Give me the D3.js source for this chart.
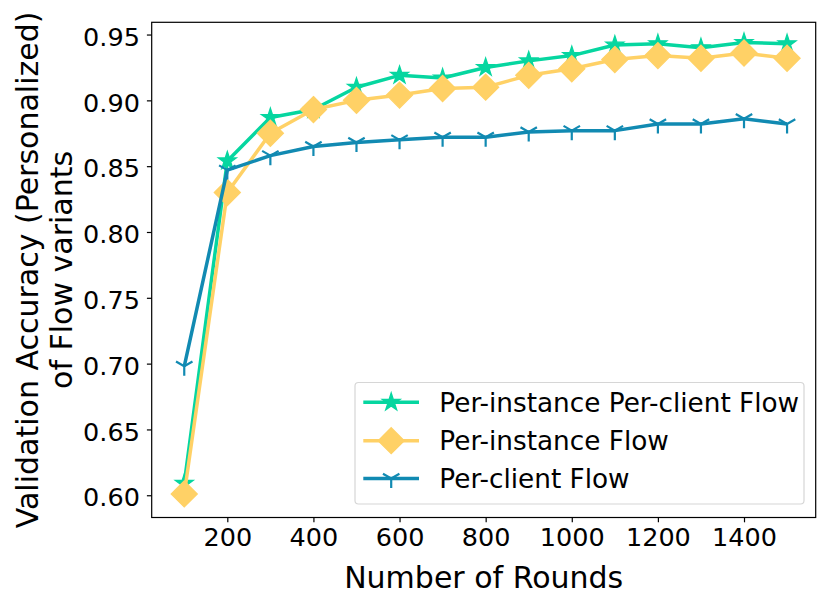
<!DOCTYPE html>
<html>
<head>
<meta charset="utf-8">
<script src="https://cdn.jsdelivr.net/npm/d3@7"></script>
<style>
  html, body { margin: 0; padding: 0; background: #fff; }
  svg { display: block; font-family: 'DejaVu Sans', sans-serif; }
</style>
</head>
<body>
<div id="chart"></div>
<script>
// Data
const rounds = [100, 200, 300, 400, 500, 600, 700, 800, 900, 1000, 1100, 1200, 1300, 1400, 1500];
const perInstancePerClient = [0.609, 0.854, 0.887, 0.893, 0.910, 0.919, 0.917, 0.925, 0.930, 0.934, 0.942, 0.943, 0.940, 0.944, 0.943];
const perInstance = [0.601, 0.830, 0.875, 0.893, 0.900, 0.904, 0.909, 0.910, 0.919, 0.924, 0.931, 0.934, 0.932, 0.936, 0.932];
const perClient = [0.698, 0.847, 0.858, 0.865, 0.868, 0.870, 0.872, 0.872, 0.876, 0.877, 0.877, 0.882, 0.882, 0.886, 0.882];

const xTicks = [200, 400, 600, 800, 1000, 1200, 1400];
const yTicks = [0.60, 0.65, 0.70, 0.75, 0.80, 0.85, 0.90, 0.95];

const seriesNames = ['Per-instance Per-client Flow', 'Per-instance Flow', 'Per-client Flow'];
const seriesColors = ['#06d6a0', '#ffd166', '#118ab2'];
const seriesMarkers = ['star', 'diamond', 'tri'];

const width = 831;
const height = 605;
const plot = { left: 151.7, right: 815.7, top: 22.3, bottom: 517.5 };

const svg = d3.select('#chart')
  .append('svg')
  .attr('width', width)
  .attr('height', height);

// Scales (pixel mapping fitted to the reference ticks)
const xScale = d3.scaleLinear()
  .domain([24.4, 1566.5])
  .range([plot.left, plot.right]);

const yScale = d3.scaleLinear()
  .domain([0.5831, 0.9593])
  .range([plot.bottom, plot.top]);

// Axes
const xAxis = svg.append('g')
  .attr('transform', `translate(0, ${plot.bottom})`)
  .call(d3.axisBottom(xScale).tickValues(xTicks).tickFormat(d3.format('d')).tickSize(4.8).tickPadding(6).tickSizeOuter(0));

xAxis.select('.domain').remove();
xAxis.selectAll('line').attr('stroke', '#000').attr('stroke-width', 1.2);
xAxis.selectAll('text')
  .attr('font-size', '25.5px')
  .attr('font-family', 'DejaVu Sans')
  .attr('fill', '#000')
  .attr('dy', '0.71em');

const yAxis = svg.append('g')
  .attr('transform', `translate(${plot.left}, 0)`)
  .call(d3.axisLeft(yScale).tickValues(yTicks).tickFormat(d3.format('.2f')).tickSize(4.8).tickPadding(7).tickSizeOuter(0));

yAxis.select('.domain').remove();
yAxis.selectAll('line').attr('stroke', '#000').attr('stroke-width', 1.2);
yAxis.selectAll('text')
  .attr('font-size', '25.5px')
  .attr('font-family', 'DejaVu Sans')
  .attr('fill', '#000')
  .attr('dy', '0.42em');

// Axis labels
svg.append('text')
  .attr('x', (plot.left + plot.right) / 2)
  .attr('y', 588)
  .attr('text-anchor', 'middle')
  .attr('font-size', '30px')
  .attr('fill', '#000')
  .text('Number of Rounds');

const yLabel = svg.append('text')
  .attr('transform', `translate(38.3, ${(plot.top + plot.bottom) / 2}) rotate(-90)`)
  .attr('text-anchor', 'middle')
  .attr('font-size', '30px')
  .attr('fill', '#000');
yLabel.append('tspan').attr('x', 0).attr('y', 0).text('Validation Accuracy (Personalized)');
yLabel.append('tspan').attr('x', 0).attr('y', 33.4).text('of Flow variants');

// Marker shapes
const diamondType = {
  draw(context, size) {
    const h = Math.sqrt(size) / 2;
    context.moveTo(0, -h);
    context.lineTo(h, 0);
    context.lineTo(0, h);
    context.lineTo(-h, 0);
    context.closePath();
  }
};

const drawMarker = (g, kind, color, x, y) => {
  if (kind === 'star') {
    g.append('path')
      .attr('transform', `translate(${x}, ${y})`)
      .attr('d', d3.symbol().type(d3.symbolStar).size(98)())
      .attr('fill', color)
      .attr('stroke', color)
      .attr('stroke-width', 1.3)
      .attr('stroke-linejoin', 'miter');
  } else if (kind === 'diamond') {
    g.append('path')
      .attr('transform', `translate(${x}, ${y})`)
      .attr('d', d3.symbol().type(diamondType).size(26 * 26)())
      .attr('fill', color)
      .attr('stroke', color)
      .attr('stroke-width', 1.3);
  } else {
    const L = 9.5;
    const a = L * Math.cos(Math.PI / 6);
    const b = L * Math.sin(Math.PI / 6);
    g.append('path')
      .attr('transform', `translate(${x}, ${y})`)
      .attr('d', `M0,0L0,${L}M0,0L${-a},${-b}M0,0L${a},${-b}`)
      .attr('fill', 'none')
      .attr('stroke', color)
      .attr('stroke-width', 2.2);
  }
};

// Lines and markers
const allSeries = [perInstancePerClient, perInstance, perClient];
const plotArea = svg.append('g');

const line = d3.line()
  .x(d => xScale(d.x))
  .y(d => yScale(d.y));

allSeries.forEach((values, si) => {
  const points = rounds.map((r, i) => ({ x: r, y: values[i] }));
  const g = plotArea.append('g');
  g.append('path')
    .datum(points)
    .attr('fill', 'none')
    .attr('stroke', seriesColors[si])
    .attr('stroke-width', 3.5)
    .attr('stroke-linejoin', 'round')
    .attr('stroke-linecap', 'butt')
    .attr('d', line);
  points.forEach(p => drawMarker(g, seriesMarkers[si], seriesColors[si], xScale(p.x), yScale(p.y)));
});

// Frame
svg.append('rect')
  .attr('x', plot.left)
  .attr('y', plot.top)
  .attr('width', plot.right - plot.left)
  .attr('height', plot.bottom - plot.top)
  .attr('fill', 'none')
  .attr('stroke', '#000')
  .attr('stroke-width', 1.2);

// Legend
const legend = svg.append('g');
legend.append('rect')
  .attr('x', 355)
  .attr('y', 382.5)
  .attr('width', 449)
  .attr('height', 121.5)
  .attr('rx', 3.5)
  .attr('fill', '#fff')
  .attr('fill-opacity', 0.8)
  .attr('stroke', '#d6d6d6')
  .attr('stroke-width', 1.2);

const legendRows = [402.3, 440.7, 478.5];
seriesNames.forEach((name, i) => {
  const yRow = legendRows[i];
  legend.append('line')
    .attr('x1', 363.3)
    .attr('x2', 419)
    .attr('y1', yRow)
    .attr('y2', yRow)
    .attr('stroke', seriesColors[i])
    .attr('stroke-width', 3.5);
  drawMarker(legend, seriesMarkers[i], seriesColors[i], 391.2, yRow);
  legend.append('text')
    .attr('x', 439.3)
    .attr('y', yRow + 9.5)
    .attr('font-size', '26.3px')
    .attr('fill', '#000')
    .text(name);
});
</script>
</body>
</html>
